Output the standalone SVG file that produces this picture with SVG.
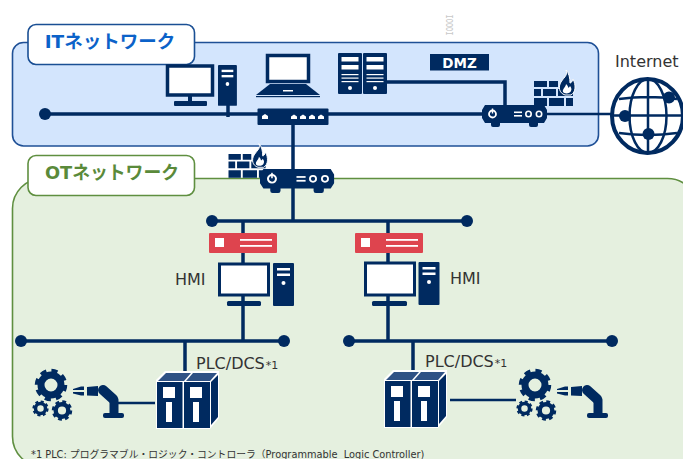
<svg xmlns="http://www.w3.org/2000/svg" xmlns:xlink="http://www.w3.org/1999/xlink" width="683" height="459" viewBox="0 0 683 459">
<style>
.n{fill:#002a60}
.w{fill:#fff}
.wire{stroke:#002a60;fill:none;stroke-linecap:butt}
.lab{font-family:"DejaVu Sans","Noto Sans CJK JP",sans-serif;fill:#333}
.tag{font-family:"DejaVu Sans","Noto Sans CJK JP",sans-serif;font-weight:bold;font-size:18.500px;text-anchor:middle}
.gr{fill:none;stroke:#002a60}
</style>
<defs>
<g id="router"><path class="n" d="M3 0H62L65 5V13L62 18H56V20Q56 22 54 22H49Q47 22 47 20V18H18V20Q18 22 16 22H11Q9 22 9 20V18H3L0 13V5Z"/><circle cx="10.500" cy="9" r="3.500" fill="none" stroke="#fff" stroke-width="1.800"/><rect class="w" x="9.800" y="3.500" width="1.400" height="5"/><rect class="w" x="32" y="6.500" width="8" height="1.600"/><rect class="w" x="32" y="10" width="8" height="1.600"/><circle cx="46.500" cy="9" r="2.700" fill="none" stroke="#fff" stroke-width="1.600"/><circle cx="57" cy="9" r="2.700" fill="none" stroke="#fff" stroke-width="1.600"/></g>
<g id="fire"><path class="n" d="M0 0H13V6H0ZM15 0H24V6H15ZM0 8H7V15H0ZM9 8H22V15H9ZM24 8H39V15H24ZM0 17H13V25H0ZM15 17H30V25H15ZM32 17H39V25H32Z"/><path class="n" stroke="#fff" stroke-width="1" d="M32 -11C34 -6 31 -5 27 1C24 6 25 12 31 14H37C42 11 42 4 39 -2C38 1 37 2 36 2C36 -3 35 -8 32 -11Z"/><path class="w" d="M32 3C32 6 28 8 29 11C30 13 36 13 37 10C38 8 37 6 36 5C35 7 34 7 34 6C34 5 33 4 32 3Z"/></g>
<g id="tower"><rect class="n" width="21" height="43" rx="1"/><rect class="w" x="4" y="5" width="13" height="2.500"/><rect class="w" x="4" y="10.500" width="13" height="2.500"/><circle class="w" cx="10.500" cy="20" r="2"/></g>
<g id="srv"><rect class="n" width="24" height="41" rx="1"/><rect class="w" x="3.500" y="4" width="17" height="4.500"/><rect class="w" x="3.500" y="12" width="17" height="4.500"/><rect class="w" x="3.500" y="21" width="17" height="1.200"/><rect class="w" x="3.500" y="24.500" width="17" height="1.200"/><rect class="w" x="3.500" y="28" width="17" height="1.200"/><circle class="w" cx="12" cy="35" r="2"/></g>
<g id="redbox"><rect width="68" height="20" rx="1" fill="#de444e"/><rect class="w" x="6" y="5" width="9" height="9"/><rect class="w" x="31" y="6" width="32" height="1.800"/><rect class="w" x="31" y="12" width="32" height="1.800"/></g>
<g id="plc"><path fill="#fff" d="M0 8L9 -1H63V46L54 57H0Z"/><path fill="#2f5285" d="M2 9L10 1H35L28 9ZM30 9L37 1H61L54 9Z"/><path class="n" d="M55 10L62 3V45L55 53Z"/><rect class="n" x="1" y="10" width="25.500" height="46"/><rect class="n" x="28" y="10" width="26" height="46"/><rect class="w" x="7" y="15" width="12" height="11"/><rect class="w" x="10" y="30" width="6" height="20"/><rect class="w" x="34" y="15" width="12" height="11"/><rect class="w" x="37" y="30" width="6" height="20"/></g>
<g id="gear"><circle cx="0" cy="0" r="10" fill="none" stroke="#002a60" stroke-width="7"/><circle cx="0" cy="0" r="14" fill="none" stroke="#002a60" stroke-width="4.500" stroke-dasharray="6 4.996"/></g>
<g id="robot"><path class="n" d="M0 3L8 0.500H11V4H0ZM0 6H11V9.500H8L0 7.500Z"/><path class="n" d="M14 1L25 0V10L14 9.500Z"/><path d="M30 4L40 13" stroke="#002a60" stroke-width="10" stroke-linecap="round"/><rect class="n" x="36.500" y="11" width="9" height="20" rx="3"/><rect class="n" x="30" y="27" width="21" height="5" rx="2"/></g>
<g id="machine"><use href="#gear" xlink:href="#gear" transform="translate(51 385)"/><use href="#gear" xlink:href="#gear" transform="translate(40.500 408.500) scale(.5)"/><use href="#gear" xlink:href="#gear" transform="translate(62 410.500) scale(.63)"/><use href="#robot" xlink:href="#robot" transform="translate(73 386)"/></g>
</defs>
<rect width="683" height="459" fill="#fff"/>

<g id="it-network"><rect x="12.500" y="42.500" width="586" height="103.500" rx="11" fill="#d3e5fd" stroke="#1f5096" stroke-width="1.600"/></g>
<g id="ot-network"><rect x="12.500" y="178.500" width="685" height="288" rx="30" fill="#e5f0df" stroke="#5f8f40" stroke-width="1.600"/></g>
<text x="449" y="25" transform="rotate(90 449 25)" font-family="Liberation Mono,monospace" font-size="10" fill="#c8c8c8" text-anchor="middle" dominant-baseline="middle" textLength="21" lengthAdjust="spacingAndGlyphs">IOOOI</text>

<g id="connectors">
<path class="wire" stroke-width="3.500" d="M45 114H258M228 105V117M328 114H482M293 125V221M387 82H505V106M212 221H467M243 221V233M388 221V233M243 253V263M388 253V263M243 296V341M388 296V341M21 341H284M349 341H617M185 341V371M413 341V371"/>
<path class="wire" stroke-width="2.500" d="M547 114H612M118 403H155M450 400H516"/>
<g class="n"><circle cx="45" cy="114" r="6"/><circle cx="212" cy="221" r="6"/><circle cx="467" cy="221" r="6"/><circle cx="21" cy="341" r="6"/><circle cx="284" cy="341" r="6"/><circle cx="349" cy="341" r="6"/><circle cx="612" cy="341" r="6"/></g>
</g>

<g id="it-label"><rect x="28" y="24.500" width="166.500" height="40" rx="8" fill="#fff" stroke="#1a4f94" stroke-width="1.600"/><text class="tag" x="110" y="48" fill="#0b62c9">ITネットワーク</text></g>
<g id="ot-label"><rect x="28" y="155.500" width="166.500" height="40" rx="8" fill="#fff" stroke="#5f8f40" stroke-width="1.600"/><text class="tag" x="112" y="179" fill="#5a8a3a" textLength="134" lengthAdjust="spacingAndGlyphs">OTネットワーク</text></g>

<g id="pc"><rect x="167.500" y="66" width="45" height="29" fill="#fff" stroke="#002a60" stroke-width="3.500"/><rect class="n" x="188" y="96" width="4" height="6"/><rect class="n" x="174" y="101" width="33" height="5" rx="1"/><use href="#tower" xlink:href="#tower" transform="translate(218 65) scale(.9 .95)"/></g>
<g id="laptop"><rect x="267.500" y="55.500" width="41" height="26" fill="#fff" stroke="#002a60" stroke-width="3.500"/><path class="n" d="M270 84H306L320 95H256Z"/><rect class="n" x="256" y="96" width="64" height="1.200"/><rect class="w" x="283" y="90" width="10" height="1.500"/></g>
<g id="switch"><rect class="n" x="257.500" y="108.500" width="71" height="16.500" rx="1"/><g class="w"><path d="M262 119V116L265 114L268 116V119Z"/><path d="M291 119V116.500L294 114.500L297 116.500V119Z"/><path d="M300 119V116.500L303 114.500L306 116.500V119Z"/><path d="M309 119V116.500L312 114.500L315 116.500V119Z"/><path d="M318 119V116.500L321 114.500L324 116.500V119Z"/></g></g>
<g id="servers"><use href="#srv" xlink:href="#srv" x="338" y="53"/><use href="#srv" xlink:href="#srv" x="363" y="53"/></g>
<g id="dmz"><rect class="n" x="430" y="54" width="59" height="16.500"/><text x="459.500" y="68" font-family="DejaVu Sans,sans-serif" font-weight="bold" font-size="13.500" fill="#fff" text-anchor="middle">DMZ</text></g>
<g id="fw-it"><use href="#fire" xlink:href="#fire" x="534" y="81"/><use href="#router" xlink:href="#router" x="482" y="105"/></g>
<g id="fw-ot"><use href="#fire" xlink:href="#fire" transform="translate(228.500 154) scale(.95)"/><use href="#router" xlink:href="#router" transform="translate(260 169) scale(1.140 1.090)"/></g>
<g id="internet"><text class="lab" x="615" y="67" font-size="16">Internet</text>
<ellipse cx="647.500" cy="116" rx="35.500" ry="37" fill="#fff" stroke="#002a60" stroke-width="4"/>
<path class="gr" stroke-width="2.500" d="M648 79V153M612 115.500H683M619 99Q648 95 677 99M619 133Q648 137 677 133"/>
<ellipse class="gr" stroke-width="2.500" cx="648" cy="116" rx="18.500" ry="37"/>
<circle class="n" cx="625" cy="116" r="6"/><circle class="n" cx="648.500" cy="134" r="6"/><circle class="n" cx="669" cy="97.500" r="6"/></g>

<g id="firewall-left"><use href="#redbox" xlink:href="#redbox" x="209" y="233"/></g>
<g id="firewall-right"><use href="#redbox" xlink:href="#redbox" x="355" y="233"/></g>
<g id="hmi-left"><rect x="219.500" y="264" width="49" height="31" fill="#fff" stroke="#002a60" stroke-width="3"/><rect class="n" x="227" y="301" width="34" height="5" rx="1.500"/><use href="#tower" xlink:href="#tower" x="273" y="263"/><text class="lab" x="175" y="285" font-size="16">HMI</text></g>
<g id="hmi-right"><rect x="365.500" y="263" width="49" height="32" fill="#fff" stroke="#002a60" stroke-width="3"/><rect class="n" x="372" y="301" width="35" height="5" rx="1.500"/><use href="#tower" xlink:href="#tower" x="418.500" y="262"/><text class="lab" x="450" y="284" font-size="16">HMI</text></g>

<g id="plc-left"><use href="#plc" xlink:href="#plc" x="156" y="372"/><text class="lab" x="196" y="369" font-size="16">PLC/DCS<tspan font-size="11" dx="1">*1</tspan></text></g>
<g id="plc-right"><use href="#plc" xlink:href="#plc" x="384" y="371"/><text class="lab" x="425" y="367" font-size="16">PLC/DCS<tspan font-size="11" dx="1">*1</tspan></text></g>
<g id="machine-left"><use href="#machine" xlink:href="#machine"/></g>
<g id="machine-right"><use href="#machine" xlink:href="#machine" x="484"/></g>
<text id="footnote" class="lab" x="31" y="458" font-size="9.800" xml:space="preserve">*1 PLC: プログラマブル・ロジック・コントローラ（Programmable  Logic Controller)</text>
</svg>
